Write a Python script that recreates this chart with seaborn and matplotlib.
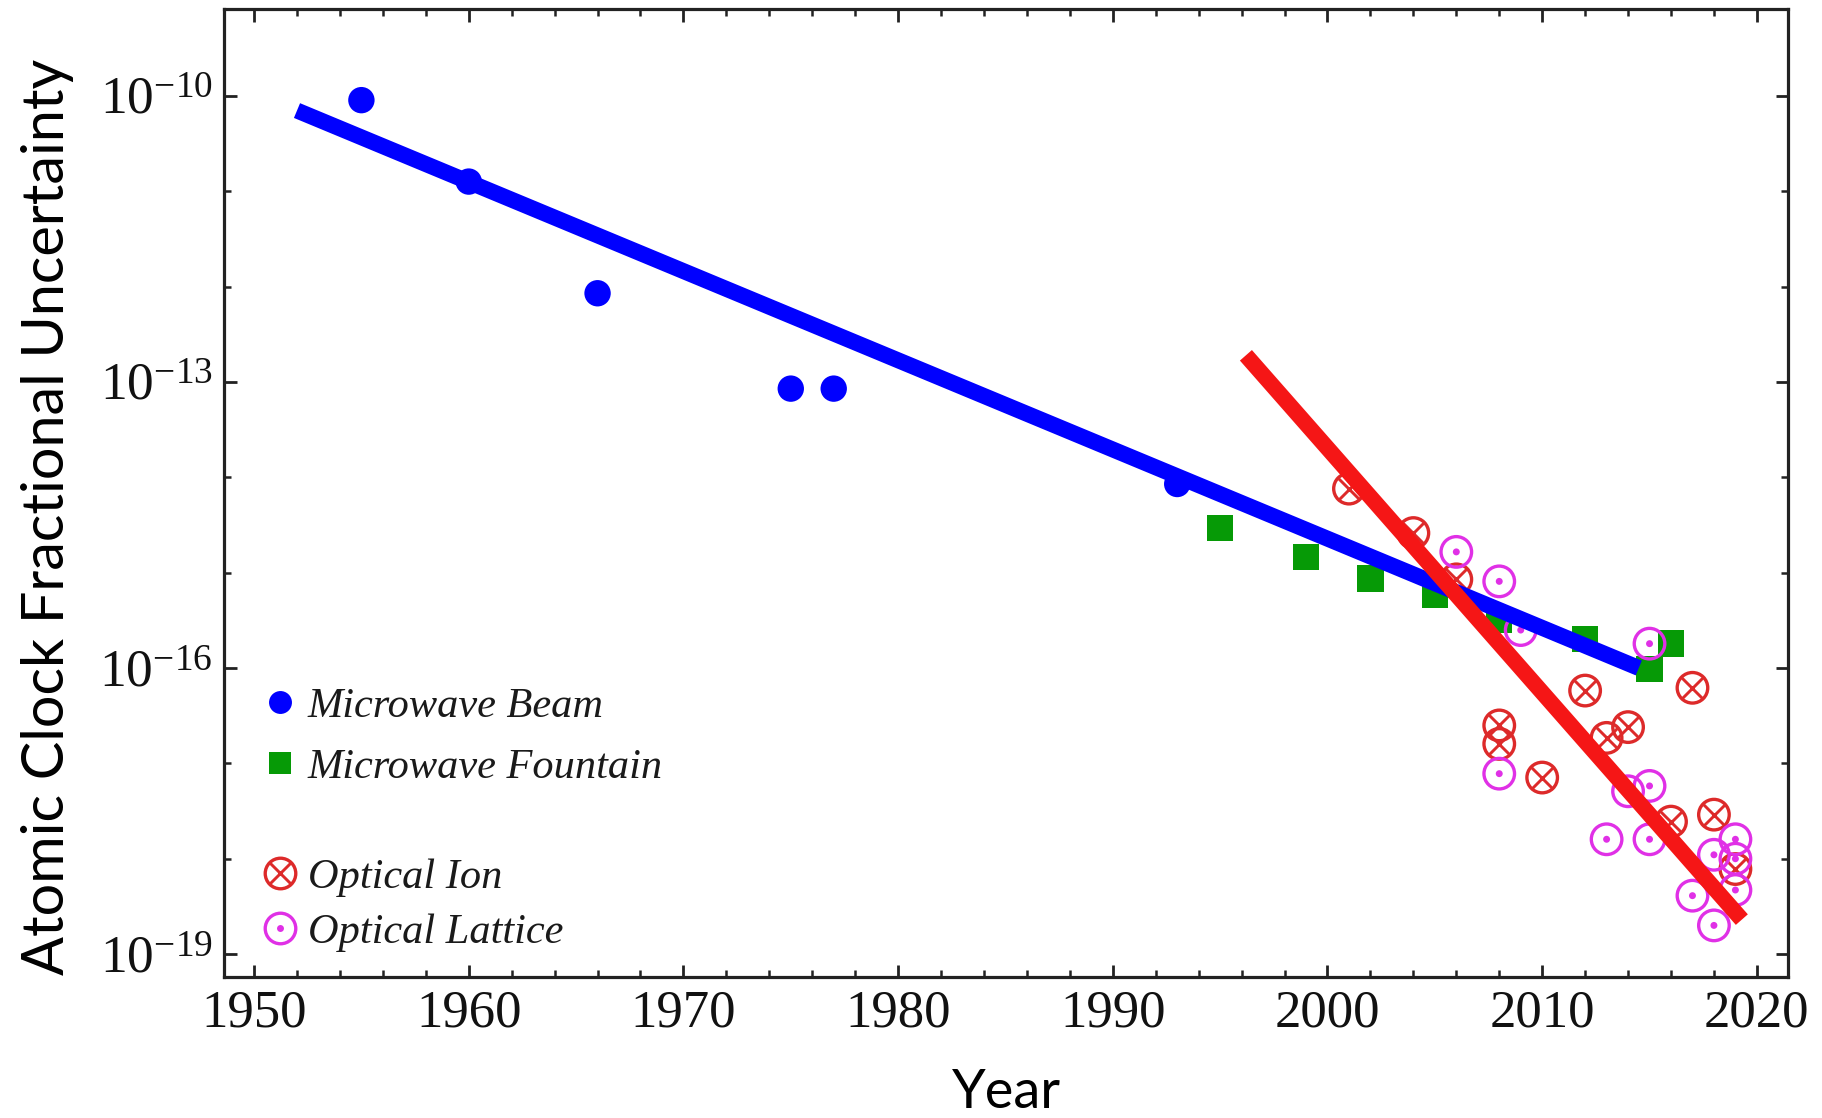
import numpy as np
import pandas as pd
import seaborn as sns
import matplotlib
matplotlib.use("Agg")
import matplotlib.pyplot as plt
from matplotlib.lines import Line2D
from matplotlib.legend_handler import HandlerTuple
from matplotlib.ticker import FixedLocator, FixedFormatter, NullFormatter

# ---- data: year vs. fractional uncertainty ----
beam_years = [1955, 1960, 1966, 1975, 1977, 1993]
beam_unc = [9e-11, 1.26e-11, 8.5e-13, 8.5e-14, 8.5e-14, 8.5e-15]

fountain_years = [1995, 1999, 2002, 2005, 2008, 2012, 2015, 2016]
fountain_unc = [2.95e-15, 1.45e-15, 8.7e-16, 5.8e-16, 3.2e-16, 2.0e-16, 9.8e-17, 1.8e-16]

ion_years = [2001, 2004, 2006, 2008, 2008, 2010, 2012, 2013, 2014, 2016, 2017, 2018, 2019]
ion_unc = [7.6e-15, 2.6e-15, 8.5e-16, 2.5e-17, 1.6e-17, 7.1e-18, 5.8e-17, 1.85e-17,
           2.4e-17, 2.45e-18, 6.2e-17, 2.9e-18, 7.8e-19]

lattice_years = [2006, 2008, 2008, 2009, 2013, 2014, 2015, 2015, 2015, 2017, 2018, 2018,
                 2019, 2019, 2019]
lattice_unc = [1.65e-15, 8.1e-16, 7.8e-18, 2.5e-16, 1.6e-18, 5.1e-18, 1.8e-16, 5.8e-18,
               1.6e-18, 4.1e-19, 1.1e-18, 2.0e-19, 1.6e-18, 1.0e-18, 4.7e-19]

# trend lines (end points)
microwave_trend_years = [1952.0, 2014.5]
microwave_trend_unc = [7.0e-11, 1.0e-16]
optical_trend_years = [1996.2, 2019.3]
optical_trend_unc = [1.9e-13, 2.3e-19]

x_tick_years = [1950, 1960, 1970, 1980, 1990, 2000, 2010, 2020]
y_major_exps = [-10, -13, -16, -19]
y_minor_exps = [-11, -12, -14, -15, -17, -18]

series_names = ["Microwave Beam", "Microwave Fountain", "Optical Ion", "Optical Lattice"]

# ---- style ----
sns.set_theme(style="ticks")
plt.rcParams["font.family"] = ["Liberation Serif", "DejaVu Serif"]
plt.rcParams["mathtext.fontset"] = "custom"
plt.rcParams["mathtext.rm"] = "Liberation Serif"
plt.rcParams["mathtext.it"] = "Liberation Serif:italic"

BLUE = "#0000ff"
GREEN = "#069a06"
ION_RED = "#dd2a2a"
LINE_RED = "#f51616"
MAGENTA = "#e030e6"

W, H = 1822, 1118
fig = plt.figure(figsize=(W / 100, H / 100), dpi=100)
ax = fig.add_axes([224 / W, 1 - 977 / H, (1788 - 224) / W, (977 - 9) / H])

beam_df = pd.DataFrame({"year": beam_years, "unc": beam_unc})
fountain_df = pd.DataFrame({"year": fountain_years, "unc": fountain_unc})
ion_df = pd.DataFrame({"year": ion_years, "unc": ion_unc})
lattice_df = pd.DataFrame({"year": lattice_years, "unc": lattice_unc})

# markers
sns.scatterplot(data=beam_df, x="year", y="unc", marker="o", s=19 ** 2, color=BLUE,
                edgecolor="none", ax=ax, zorder=3)
sns.scatterplot(data=fountain_df, x="year", y="unc", marker="s", s=19 ** 2, color=GREEN,
                edgecolor="none", ax=ax, zorder=3)
ring_size = 22 ** 2
sns.scatterplot(data=ion_df, x="year", y="unc", marker="o", s=ring_size, facecolor="none",
                edgecolor=ION_RED, linewidth=2.4, ax=ax, zorder=3)
sns.scatterplot(data=ion_df, x="year", y="unc", marker="x", s=15.5 ** 2, color=ION_RED,
                linewidth=2.1, ax=ax, zorder=3)
sns.scatterplot(data=lattice_df, x="year", y="unc", marker="o", s=ring_size, facecolor="none",
                edgecolor=MAGENTA, linewidth=2.4, ax=ax, zorder=3)
sns.scatterplot(data=lattice_df, x="year", y="unc", marker="o", s=5 ** 2, color=MAGENTA,
                edgecolor="none", ax=ax, zorder=3)

# trend lines
sns.lineplot(x=microwave_trend_years, y=microwave_trend_unc, color=BLUE, linewidth=11.5,
             solid_capstyle="butt", ax=ax, zorder=4)
sns.lineplot(x=optical_trend_years, y=optical_trend_unc, color=LINE_RED, linewidth=11.5,
             solid_capstyle="butt", ax=ax, zorder=5)

# ---- axes ----
ax.set_yscale("log")
ax.set_xlim(1948.6, 2021.45)
ax.set_ylim(10 ** -19.24, 10 ** -9.09)

ax.xaxis.set_major_locator(FixedLocator(x_tick_years))
ax.xaxis.set_minor_locator(FixedLocator(list(range(1950, 2021, 2))))
ax.set_xticklabels([str(y) for y in x_tick_years])

ax.yaxis.set_major_locator(FixedLocator([10.0 ** e for e in y_major_exps]))
ax.yaxis.set_major_formatter(FixedFormatter([rf"$10^{{{e}}}$" for e in y_major_exps]))
ax.yaxis.set_minor_locator(FixedLocator([10.0 ** e for e in y_minor_exps]))
ax.yaxis.set_minor_formatter(NullFormatter())

ax.tick_params(axis="both", which="both", direction="in", top=True, right=True,
               color="#222222")
ax.tick_params(axis="both", which="major", length=9, width=2.0)
ax.tick_params(axis="both", which="minor", length=5, width=1.8)
ax.tick_params(axis="x", which="major", labelsize=38, pad=9, labelcolor="#111111")
ax.tick_params(axis="y", which="major", labelsize=38.5, pad=8, labelcolor="#111111")

for tick in ax.yaxis.get_major_ticks() + ax.yaxis.get_minor_ticks():
    tick.tick2line.set_color("#cccccc")

for side in ["left", "right", "top", "bottom"]:
    ax.spines[side].set_linewidth(2.3)
    ax.spines[side].set_color("#222222")

ax.set_xlabel("Year", fontfamily="Lato", fontsize=39, color="black")
ax.set_ylabel("Atomic Clock Fractional Uncertainty", fontfamily="Lato", fontsize=41.5,
              color="black")
ax.xaxis.set_label_coords((1006 - 224) / 1564, -(1068 - 977) / 968)
ax.yaxis.set_label_coords((74 - 224) / 1564, (977 - 517) / 968)

# ---- legends ----
h_beam = Line2D([], [], linestyle="none", marker="o", markersize=16.5, color=BLUE,
                markeredgewidth=0)
h_fountain = Line2D([], [], linestyle="none", marker="s", markersize=16.5, color=GREEN,
                    markeredgewidth=0)
h_ion = (Line2D([], [], linestyle="none", marker="o", markersize=22, markerfacecolor="none",
                markeredgecolor=ION_RED, markeredgewidth=2.4),
         Line2D([], [], linestyle="none", marker="x", markersize=15.5, color=ION_RED,
                markeredgewidth=2.1))
h_lattice = (Line2D([], [], linestyle="none", marker="o", markersize=22,
                    markerfacecolor="none", markeredgecolor=MAGENTA, markeredgewidth=2.4),
             Line2D([], [], linestyle="none", marker="o", markersize=5, color=MAGENTA,
                    markeredgewidth=0))

legend_font = {"family": "Liberation Serif", "style": "italic", "size": 30.5}
common = dict(loc="center left", bbox_transform=fig.transFigure, frameon=False,
              borderpad=0, borderaxespad=0, handlelength=1.0, handletextpad=0.15,
              prop=legend_font, handler_map={tuple: HandlerTuple(ndivide=1)})

leg1 = ax.legend([h_beam, h_fountain], series_names[:2],
                 bbox_to_anchor=(259 / W, 1 - 737 / H), labelspacing=0.53, **common)
ax.add_artist(leg1)
leg2 = ax.legend([h_ion, h_lattice], series_names[2:],
                 bbox_to_anchor=(259 / W, 1 - 905 / H), labelspacing=0.40, **common)
for lg in (leg1, leg2):
    for t in lg.get_texts():
        t.set_color("#1a1a1a")

fig.savefig("out.png", dpi=100, facecolor="white")
